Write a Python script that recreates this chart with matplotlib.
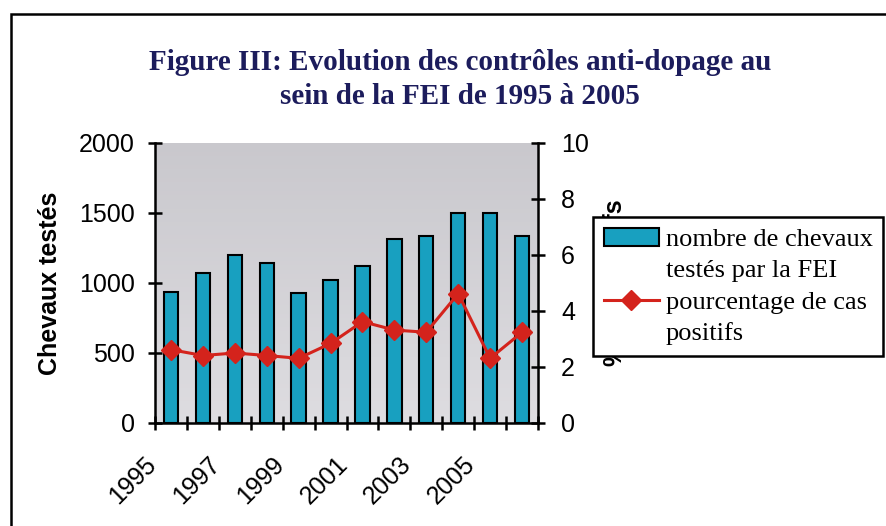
import numpy as np
import matplotlib.pyplot as plt
import matplotlib.transforms as mtransforms
from matplotlib.patches import Rectangle

# Data
years = [1995, 1996, 1997, 1998, 1999, 2000, 2001, 2002, 2003, 2004, 2005, 2006]
chevaux_testes = [935, 1068, 1198, 1145, 930, 1020, 1125, 1315, 1335, 1497, 1502, 1338]
pct_positifs = [2.62, 2.41, 2.50, 2.41, 2.31, 2.84, 3.62, 3.32, 3.24, 4.62, 2.31, 3.24]
tick_labels = [str(y) for y in years[::2]]

bar_color = '#18a0c0'
line_color = '#d4231c'
title_color = '#1c1c5c'

fig = plt.figure(figsize=(8.86, 5.26), dpi=100)

# outer frame (right and bottom edges fall outside the picture)
fig.patches.append(Rectangle((11 / 886, -0.05), 1.2, 1 - 14 / 526 + 0.05,
                             transform=fig.transFigure, fill=False,
                             edgecolor='black', linewidth=1.8))

fig.text(0.519, 1 - 63 / 526, 'Figure III: Evolution des contrôles anti-dopage au',
         ha='center', va='center', fontsize=21, fontweight='bold',
         family='Liberation Serif', color=title_color)
fig.text(0.519, 1 - 96 / 526, 'sein de la FEI de 1995 à 2005',
         ha='center', va='center', fontsize=21, fontweight='bold',
         family='Liberation Serif', color=title_color)

ax = fig.add_axes([155 / 886, 1 - 423 / 526, (538 - 155) / 886, (423 - 143) / 526])
ax.set_facecolor('white')
# grey backdrop of the plot area, a little lighter towards the bottom
top_rgb = np.array([0.79, 0.785, 0.805])
bot_rgb = np.array([0.87, 0.865, 0.88])
t = np.linspace(0, 1, 64).reshape(-1, 1, 1)
backdrop = top_rgb * (1 - t) + bot_rgb * t
ax.imshow(backdrop, extent=(0, 1, 0, 1), transform=ax.transAxes, aspect='auto',
          zorder=0, origin='upper')

x = np.arange(len(years)) + 0.5
bars = ax.bar(x, chevaux_testes, width=0.45, color=bar_color,
              edgecolor='black', linewidth=1.5, zorder=3)
ax.set_xlim(0, len(years))
ax.set_ylim(0, 2000)
ax.set_yticks(np.arange(0, 2001, 500))

boundaries = np.arange(len(years) + 1)
ax.set_xticks(boundaries)
labels = [''] * len(boundaries)
for i, lab in enumerate(tick_labels):
    labels[2 * i] = lab
ax.set_xticklabels(labels, rotation=45, ha='right', rotation_mode='anchor')

ax2 = ax.twinx()
line, = ax2.plot(x, pct_positifs, color=line_color, linewidth=2.2, marker='D',
                 markersize=10, zorder=4)
ax2.set_ylim(0, 10)
ax2.set_yticks(np.arange(0, 11, 2))

for a in (ax, ax2):
    for s in a.spines.values():
        s.set_visible(False)
    a.tick_params(labelsize=18, width=1.8, length=10, direction='inout',
                  colors='black')
    for lab in a.get_xticklabels() + a.get_yticklabels():
        lab.set_family('Liberation Sans')
ax.spines['left'].set_visible(True)
ax.spines['bottom'].set_visible(True)
ax2.spines['right'].set_visible(True)
for s in (ax.spines['left'], ax.spines['bottom'], ax2.spines['right']):
    s.set_linewidth(1.8)
ax.tick_params(axis='x', pad=16)
ax.tick_params(axis='y', pad=9.5)
ax2.tick_params(axis='y', pad=11.5)

# nudge the slanted year labels a bit to the left
shift = mtransforms.ScaledTranslation(-8 / 72, 0, fig.dpi_scale_trans)
for lab in ax.get_xticklabels():
    lab.set_transform(lab.get_transform() + shift)

ax.set_ylabel('Chevaux testés', fontsize=18, fontweight='bold',
              family='Liberation Sans', labelpad=12)
ax2.set_ylabel('% cas positifs', fontsize=18, fontweight='bold',
               family='Liberation Sans', labelpad=10)

# one legend row per text line so the markers sit on the first line
blank = Rectangle((0, 0), 1, 1, fill=False, edgecolor='none')
leg = fig.legend([bars, blank, line, blank],
                 ['nombre de chevaux', 'testés par la FEI',
                  'pourcentage de cas', 'positifs'],
                 loc='upper left', bbox_to_anchor=(593 / 886, 1 - 217 / 526),
                 prop={'family': 'Liberation Serif', 'size': 19},
                 frameon=True, fancybox=False, edgecolor='black',
                 handlelength=2.1, handleheight=0.7, handletextpad=0.25,
                 borderpad=0.4, labelspacing=0.3, borderaxespad=0)
leg.get_frame().set_linewidth(1.8)
leg.get_frame().set_facecolor('white')
leg.get_frame().set_alpha(1)

fig.savefig('out.png', dpi=100)
